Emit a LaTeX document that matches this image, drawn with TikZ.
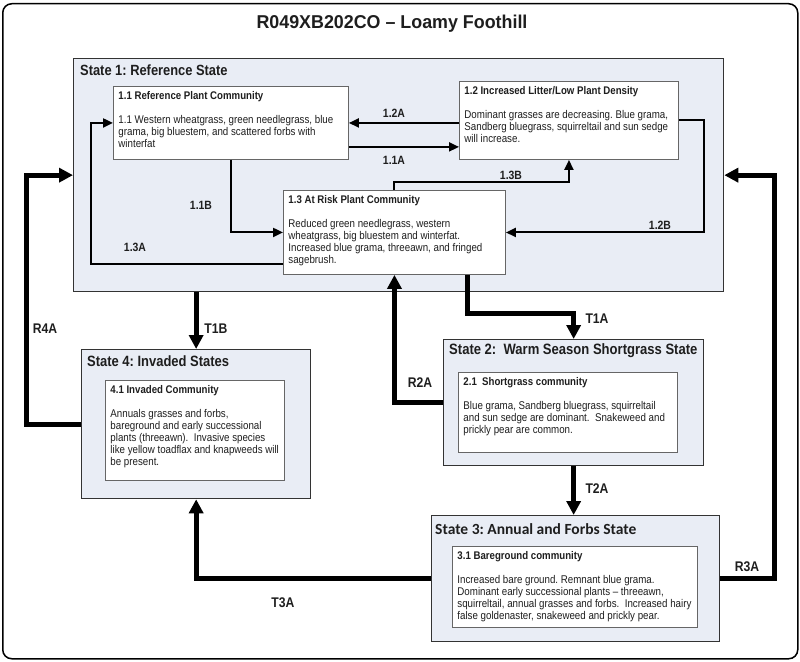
\documentclass[tikz,border=0pt]{standalone}
\usepackage{fontspec}
\setmainfont{Liberation Sans}[FakeStretch=0.87]
\newfontfamily\titlefont{Liberation Sans}[FakeStretch=0.96]
\newfontfamily\calfont{Carlito}
\usetikzlibrary{arrows.meta}
\definecolor{stfill}{RGB}{233,237,245}
\definecolor{txt}{RGB}{30,30,30}
\frenchspacing
\newcommand{\commtext}[4]{\parbox[c][#2][t]{#1}{\begin{tabular}[t]{@{}l@{}}\fontsize{11.1}{12}\bfseries #3\\[12pt]#4\end{tabular}}}
\tikzset{
  frame/.style={draw=black, line width=1.5pt, rounded corners=9pt, anchor=north west, inner sep=0pt},
  statebox/.style={draw=black!80, line width=1.3pt, fill=stfill, anchor=north west, inner sep=0pt},
  commbox/.style={draw=black!60, line width=0.9pt, fill=white, anchor=north west, inner sep=5pt,
    font=\fontsize{11.2}{12}\selectfont, text=txt},
  thinarrow/.style={line width=2pt, -{Triangle[length=10pt,width=9pt]}},
  thickarrow/.style={line width=5pt, -{Triangle[length=14pt,width=14pt]}},
  smalllab/.style={inner sep=0pt, font=\bfseries\fontsize{12}{13}\selectfont, text=txt},
  biglab/.style={inner sep=0pt, font=\bfseries\fontsize{14}{15}\selectfont, text=txt},
  calttl/.style={anchor=west, inner sep=0pt, font=\calfont\bfseries\fontsize{15.5}{18}\selectfont, text=txt},
  arialttl/.style={anchor=west, inner sep=0pt, text=txt}
}
\begin{document}
\begin{tikzpicture}[x=1pt,y=-1pt]
\useasboundingbox (0,0) rectangle (800,661);
\node[frame, minimum width=795pt, minimum height=655pt] (frame) at (2,3) {};
\node[inner sep=0pt, font=\titlefont\bfseries\fontsize{18.6}{21}\selectfont, text=txt] (title) at (392,24) {R049XB202CO – Loamy Foothill};

% State boxes
\node[statebox, minimum width=650pt, minimum height=233pt] (s1) at (73,58) {};
\node[arialttl, font=\bfseries\fontsize{14.8}{16}\selectfont] (s1t) at (80,70) {State 1: Reference State};
\node[statebox, minimum width=229pt, minimum height=149pt] (s4) at (81,349) {};
\node[arialttl, font=\bfseries\fontsize{14.9}{16}\selectfont] (s4t) at (87,361) {State 4: Invaded States};
\node[statebox, minimum width=260pt, minimum height=126pt] (s2) at (443,339) {};
\node[arialttl, font=\bfseries\fontsize{15}{17}\selectfont] (s2t) at (449,351) {State 2:\ \ Warm Season Shortgrass State};
\node[statebox, minimum width=288pt, minimum height=126pt] (s3) at (431,515) {};
\node[calttl] (s3t) at (435,529) {State 3: Annual and Forbs State};

% Community boxes
\node[commbox] (c11) at (113,86) {\commtext{225pt}{63pt}{1.1 Reference Plant Community}{1.1 Western wheatgrass, green needlegrass, blue\\grama, big bluestem, and scattered forbs with\\winterfat}};
\node[commbox] (c12) at (459,81) {\commtext{209pt}{68pt}{1.2 Increased Litter/Low Plant Density}{Dominant grasses are decreasing. Blue grama,\\Sandberg bluegrass, squirreltail and sun sedge\\will increase.}};
\node[commbox] (c13) at (283,190) {\commtext{212pt}{74pt}{1.3 At Risk Plant Community}{Reduced green needlegrass, western\\wheatgrass, big bluestem and winterfat.\\Increased blue grama, threeawn, and fringed\\sagebrush.}};
\node[commbox] (c41) at (105,380) {\commtext{169pt}{90pt}{4.1 Invaded Community}{Annuals grasses and forbs,\\bareground and early successional\\plants (threeawn).\ \ Invasive species\\like yellow toadflax and knapweeds will\\be present.}};
\node[commbox] (c21) at (458,372) {\commtext{209pt}{70pt}{2.1\ \ Shortgrass community}{Blue grama, Sandberg bluegrass, squirreltail\\and sun sedge are dominant.\ \ Snakeweed and\\prickly pear are common.}};
\node[commbox] (c31) at (452,546) {\commtext{235pt}{71pt}{3.1 Bareground community}{Increased bare ground. Remnant blue grama.\\Dominant early successional plants – threeawn,\\squirreltail, annual grasses and forbs.\ \ Increased hairy\\false goldenaster, snakeweed and prickly pear.}};

% Helper coordinates
\coordinate (a11) at ([yshift=13pt]c11.south east);
\coordinate (a13A) at ([yshift=11pt]c13.south west);
\coordinate (aT1A) at ([xshift=-38pt]c13.south east);

% Thin arrows within State 1
\draw[thinarrow] (c11.east -| c12.west) -- (c11.east);
\draw[thinarrow] (a11) -- (a11 -| c12.west);
\draw[thinarrow] (c11.south) |- (c13.west);
\draw[thinarrow] (a13A) -- ++(-192,0) |- (c11.west);
\draw[thinarrow] (c13.north) -- ++(0,-8) -| (c12.south);
\draw[thinarrow] (c12.east) -- ++(25,0) |- (c13.east);

% Thick arrows
\draw[thickarrow] (s4.north |- s1.south) -- (s4.north);
\draw[thickarrow] (aT1A) -- ++(0,39) -| (s2.north);
\draw[thickarrow] (s2.west) -| (c13.south);
\draw[thickarrow] (s2.south) -- (s2.south |- s3.north);
\draw[thickarrow] (s3.west) -| (s4.south);
\draw[thickarrow] (s3.east) -- ++(54,0) |- (s1.east);
\draw[thickarrow] (s4.west) -- ++(-55,0) |- (s1.west);

% Labels
\node[smalllab] (l12A) at (394,113) {1.2A};
\node[smalllab] (l11A) at (394,160) {1.1A};
\node[smalllab] (l11B) at (201,205) {1.1B};
\node[smalllab] (l13A) at (135,247) {1.3A};
\node[smalllab] (l13B) at (511,175) {1.3B};
\node[smalllab] (l12B) at (660,225) {1.2B};
\node[biglab] (lR4A) at (45,329) {R4A};
\node[biglab] (lT1B) at (216,329) {T1B};
\node[biglab] (lR2A) at (420,383) {R2A};
\node[biglab] (lT1A) at (597,319) {T1A};
\node[biglab] (lT2A) at (597,489) {T2A};
\node[biglab] (lR3A) at (747,567) {R3A};
\node[biglab] (lT3A) at (283,603) {T3A};
\end{tikzpicture}
\end{document}
